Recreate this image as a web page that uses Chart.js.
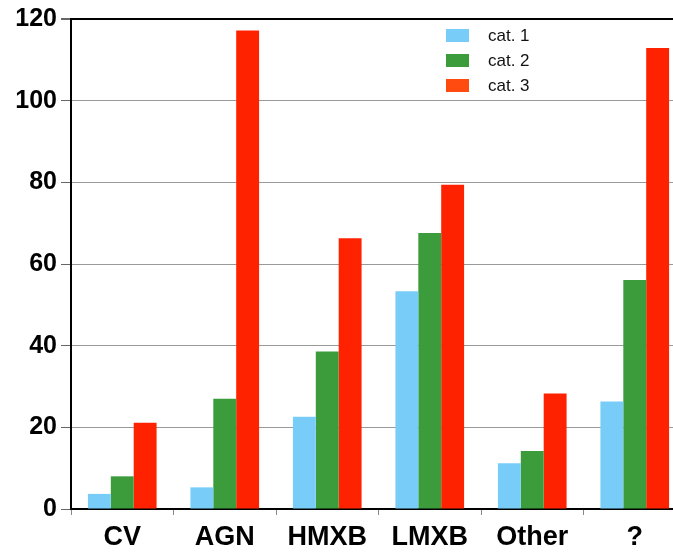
<!DOCTYPE html>
<html>
<head>
<meta charset="UTF-8" />
<title>Sources by type</title>
<script src="https://cdn.jsdelivr.net/npm/chart.js"></script>
<style>
  html, body {
    margin: 0;
    padding: 0;
    background: #fff;
    overflow: hidden;
  }
  #chart {
    display: block;
  }
</style>
</head>
<body>

<canvas id="chart" width="690" height="552"></canvas>

<script>
var categories = ["CV", "AGN", "HMXB", "LMXB", "Other", "?"];
var cat1 = [3.7, 5.3, 22.6, 53.3, 11.2, 26.3];
var cat2 = [8.0, 27.0, 38.6, 67.6, 14.2, 56.1];
var cat3 = [21.1, 117.2, 66.3, 79.4, 28.3, 112.9];
var seriesNames = ["cat. 1", "cat. 2", "cat. 3"];
var seriesColors = ["#78cdf8", "#3c9c3c", "#ff2200"];
var legendColors = ["#78cdf8", "#3c9c3c", "#ff4a10"];

var font = 'Arial, "Liberation Sans", sans-serif';

// legend drawn as a vertical list inside the plot, top right
var boxLegend = {
  id: "boxLegend",
  afterDraw: function(chart) {
    var ctx = chart.ctx;
    ctx.save();
    ctx.font = "17px " + font;
    ctx.textBaseline = "middle";
    ctx.textAlign = "left";
    chart.data.datasets.forEach(function(ds, i) {
      var y = 29 + i * 25;
      ctx.fillStyle = legendColors[i];
      ctx.fillRect(446, y, 23, 13);
      ctx.fillStyle = "#111";
      ctx.fillText(ds.label, 488, y + 7);
    });
    ctx.restore();
  }
};

new Chart(document.getElementById("chart").getContext("2d"), {
  type: "bar",
  data: {
    labels: categories,
    datasets: [cat1, cat2, cat3].map(function(vals, i) {
      return {
        label: seriesNames[i],
        data: vals,
        backgroundColor: seriesColors[i],
        borderWidth: 0,
        barPercentage: 1,
        categoryPercentage: 0.67
      };
    })
  },
  options: {
    responsive: false,
    animation: false,
    layout: { padding: { left: 0, top: 16, right: 4, bottom: 0 } },
    plugins: {
      legend: { display: false },
      tooltip: { enabled: false }
    },
    scales: {
      x: {
        grid: {
          drawOnChartArea: false,
          tickLength: 6,
          tickColor: "#888"
        },
        border: { color: "#000", width: 2 },
        ticks: {
          color: "#000",
          padding: 6,
          font: { family: font, size: 27, weight: "bold" }
        },
        afterFit: function(scale) { scale.height = 43; }
      },
      y: {
        min: 0,
        max: 120,
        grid: {
          color: function(c) { return c.tick && c.tick.value === 120 ? "#000" : "#999"; },
          lineWidth: function(c) { return c.tick && c.tick.value === 120 ? 2 : 1; },
          tickLength: 10,
          tickColor: "#666"
        },
        border: { color: "#000", width: 2 },
        ticks: {
          stepSize: 20,
          color: "#000",
          padding: 4,
          font: { family: font, size: 25, weight: "bold" }
        },
        afterFit: function(scale) { scale.width = 71; }
      }
    }
  },
  plugins: [boxLegend]
});
</script>

</body>
</html>
